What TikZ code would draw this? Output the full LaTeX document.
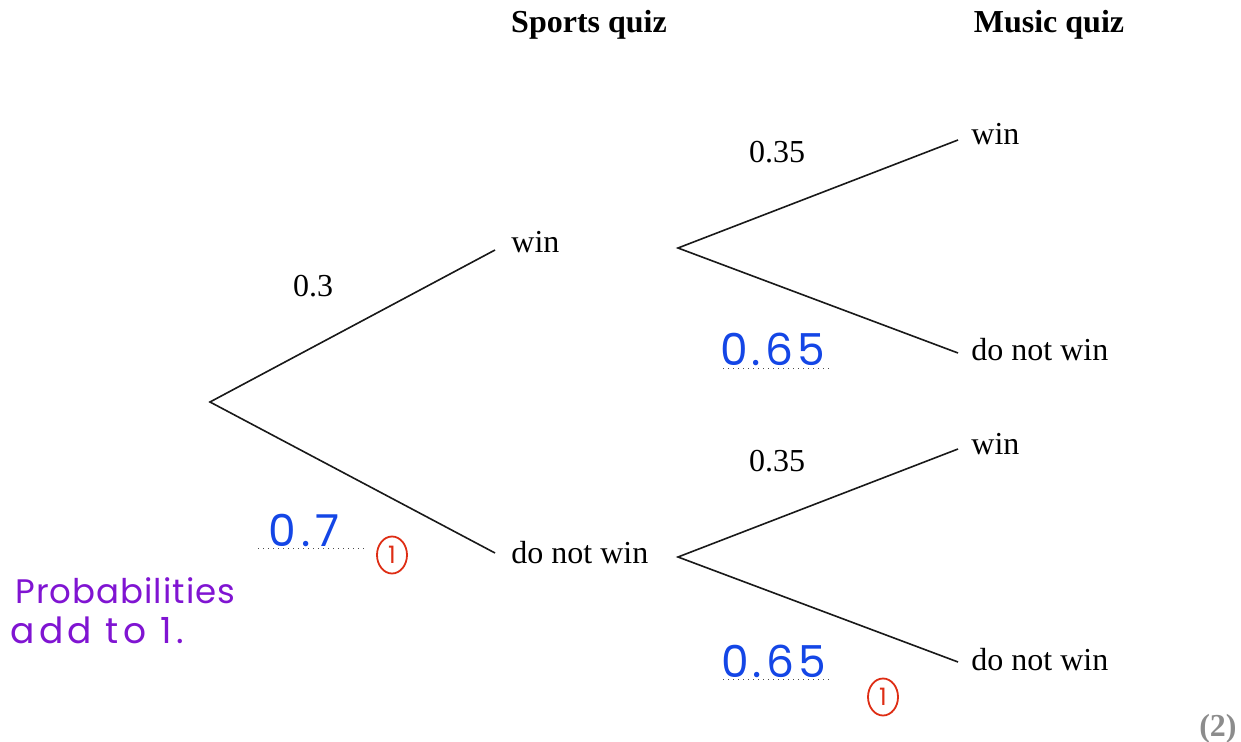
\documentclass[tikz,border=0pt]{standalone}
\usepackage{fontspec}
\setmainfont{Liberation Serif}
\newfontfamily\handfont{Poppins}
\newfontfamily\handwide[LetterSpace=9]{Poppins}
\newfontfamily\handspread[LetterSpace=12]{Poppins}
\newfontfamily\handnote[LetterSpace=3]{Poppins}
\usetikzlibrary{shapes.geometric}
\definecolor{handblue}{RGB}{20,70,230}
\definecolor{handred}{RGB}{222,45,20}
\definecolor{handpurple}{RGB}{128,20,210}
\begin{document}
\begin{tikzpicture}[x=0.5pt,y=-0.5pt,
  branch/.style={line width=0.8pt,black!90},
  lbl/.style={anchor=base west,inner sep=0pt,font=\fontsize{16}{19}\selectfont},
  prob/.style={anchor=base,inner sep=0pt,font=\fontsize{16}{19}\selectfont},
  head/.style={anchor=base,inner sep=0pt,font=\fontsize{16}{19}\selectfont\bfseries},
  answer/.style={draw=black!70,dotted,line width=0.5pt},
  bluehand/.style={anchor=base west,inner sep=0pt,text=handblue,font=\handwide\fontsize{22}{26}\selectfont},
  redmark/.style={ellipse,draw=handred,line width=0.9pt,text=handred,inner sep=0pt,minimum width=15pt,minimum height=18.5pt,font=\handfont\fontsize{12}{14}\selectfont},
  note/.style={anchor=base west,inner sep=0pt,text=handpurple,font=\handnote\fontsize{17}{20}\selectfont}]
\useasboundingbox (0,0) rectangle (1241,742);
% headings
\node[head] (hs) at (589,33) {Sports quiz};
\node[head] (hm) at (1049,33) {Music quiz};
% tree points
\coordinate (r) at (210,402);
\coordinate (sw) at (495,250);
\coordinate (sl) at (495,553);
\coordinate (a) at (678,248);
\coordinate (b) at (678,557);
\coordinate (aw) at (958,140);
\coordinate (al) at (958,353);
\coordinate (bw) at (958,449);
\coordinate (bl) at (958,662);
\draw[branch] (sw) -- (r) -- (sl);
\draw[branch] (aw) -- (a) -- (al);
\draw[branch] (bw) -- (b) -- (bl);
% outcome labels
\node[lbl] (tsw) at (511,253) {win};
\node[lbl] (tsl) at (511,563) {do not win};
\node[lbl] (taw) at (971,145) {win};
\node[lbl] (tal) at (971,361) {do not win};
\node[lbl] (tbw) at (971,455) {win};
\node[lbl] (tbl) at (971,670) {do not win};
% given probabilities
\node[prob] (p1) at (313,297) {0.3};
\node[prob] (p2) at (777,163) {0.35};
\node[prob] (p3) at (777,472) {0.35};
% answer lines
\coordinate (d1a) at (258,548); \coordinate (d1b) at (366,548);
\coordinate (d2a) at (723,369); \coordinate (d2b) at (830,369);
\coordinate (d3a) at (723,679); \coordinate (d3b) at (830,679);
\draw[answer] (d1a) -- (d1b);
\draw[answer] (d2a) -- (d2b);
\draw[answer] (d3a) -- (d3b);
% handwritten answers
\node[bluehand,font=\handspread\fontsize{22}{26}\selectfont] (h1) at (268,546) {0.7};
\node[bluehand] (h2) at (720,366) {0.65};
\node[bluehand] (h3) at (721,677) {0.65};
\node[redmark] (m1) at (392,555) {1};
\node[redmark] (m2) at (883,697) {1};
\node[note] (n1) at (15,603) {Probabilities};
\node[note,font=\handspread\fontsize{18}{21}\selectfont] (n2) at (10,643) {add to 1.};
% marks
\node[anchor=base east,inner sep=0pt,text=black!45,font=\fontsize{16}{19}\selectfont\bfseries] (mk) at (1237,736) {(2)};
\end{tikzpicture}
\end{document}
